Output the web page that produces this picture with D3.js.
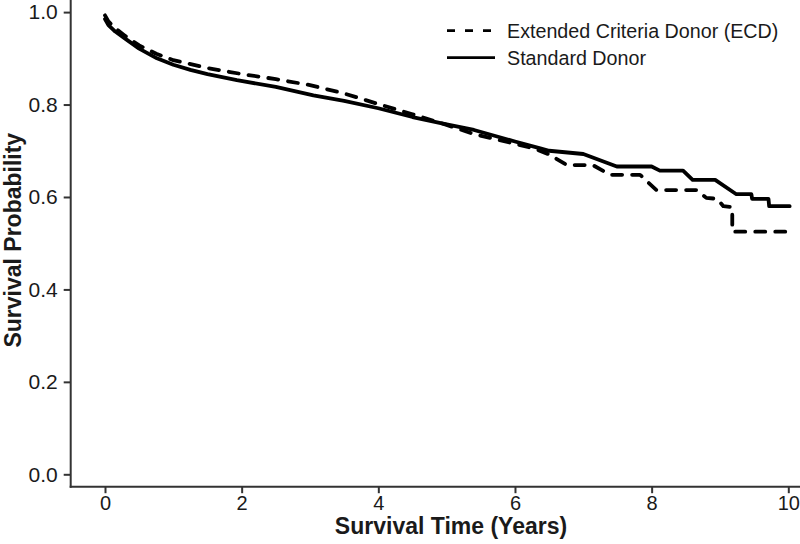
<!DOCTYPE html>
<html>
<head>
<meta charset="utf-8">
<script src="https://cdn.jsdelivr.net/npm/d3@7"></script>
<style>
  html, body { margin: 0; padding: 0; background: #fff; }
  svg { display: block; }
  text { font-family: "Liberation Sans", Arial, Helvetica, sans-serif; }
</style>
</head>
<body>
<svg id="chart" width="800" height="544"></svg>
<script>
// ---- Data ----
const xTicks = [0, 2, 4, 6, 8, 10];
const yTicks = [0.0, 0.2, 0.4, 0.6, 0.8, 1.0];

const seriesNames = ["Extended Criteria Donor (ECD)", "Standard Donor"];

// Extended Criteria Donor (dashed)
const ecdTime = [0, 0.05, 0.15, 0.3, 0.5, 0.75, 1.0, 1.5, 2.0, 2.5, 3.0, 3.5, 4.0, 4.5, 5.0, 5.4, 6.0, 6.3, 6.5, 6.76, 7.14, 7.39, 7.83, 8.07, 8.66, 8.8, 8.96, 9.05, 9.18, 9.18, 9.98];
const ecdSurv = [0.993, 0.98, 0.965, 0.948, 0.928, 0.91, 0.896, 0.879, 0.866, 0.855, 0.842, 0.824, 0.801, 0.779, 0.756, 0.736, 0.715, 0.704, 0.692, 0.669, 0.669, 0.648, 0.648, 0.615, 0.615, 0.598, 0.596, 0.580, 0.578, 0.525, 0.525];

// Standard Donor (solid)
const sdTime = [0, 0.05, 0.15, 0.3, 0.5, 0.76, 1.0, 1.25, 1.5, 1.93, 2.5, 3.05, 3.5, 4.0, 4.5, 5.0, 5.4, 6.0, 6.37, 6.5, 7.0, 7.49, 8.0, 8.12, 8.46, 8.6, 8.93, 9.24, 9.46, 9.47, 9.71, 9.72, 10.02];
const sdSurv = [0.985, 0.972, 0.958, 0.942, 0.921, 0.9, 0.886, 0.875, 0.866, 0.853, 0.838, 0.82, 0.808, 0.792, 0.773, 0.757, 0.745, 0.72, 0.705, 0.70, 0.693, 0.666, 0.666, 0.657, 0.657, 0.637, 0.637, 0.606, 0.606, 0.596, 0.596, 0.58, 0.58];

// ---- Chart ----
const svg = d3.select("#chart");
const axisX = 70.7, axisY = 486.7;

const x = d3.scaleLinear().domain([0, 10]).range([105, 788.3]);
const y = d3.scaleLinear().domain([0, 1]).range([474.3, 12.1]);

const axisColor = "#333";
const textColor = "#1a1a1a";

// Y axis
const gy = svg.append("g")
  .attr("transform", `translate(${axisX},0)`)
  .call(d3.axisLeft(y).tickValues(yTicks).tickFormat(d3.format(".1f")).tickSize(7).tickPadding(6));
gy.select(".domain").remove();
gy.selectAll(".tick line").attr("stroke", axisColor).attr("stroke-width", 2);
gy.selectAll(".tick text").attr("fill", textColor).style("font-size", "21px");

// X axis
const gx = svg.append("g")
  .attr("transform", `translate(0,${axisY})`)
  .call(d3.axisBottom(x).tickValues(xTicks).tickFormat(d3.format("d")).tickSize(6.5).tickPadding(3));
gx.select(".domain").remove();
gx.selectAll(".tick line").attr("stroke", axisColor).attr("stroke-width", 2);
gx.selectAll(".tick text").attr("fill", textColor).style("font-size", "20px");

// Axis lines (L frame)
svg.append("line").attr("x1", axisX).attr("x2", axisX).attr("y1", 0).attr("y2", axisY + 1)
  .attr("stroke", axisColor).attr("stroke-width", 2);
svg.append("line").attr("x1", axisX - 1).attr("x2", 800).attr("y1", axisY).attr("y2", axisY)
  .attr("stroke", axisColor).attr("stroke-width", 2);

// Axis titles
svg.append("text")
  .attr("x", 451).attr("y", 534)
  .attr("text-anchor", "middle")
  .attr("fill", textColor)
  .style("font-size", "23px").style("font-weight", "bold")
  .text("Survival Time (Years)");

svg.append("text")
  .attr("transform", `translate(21,${(12.1 + 474.3) / 2 - 3}) rotate(-90)`)
  .attr("text-anchor", "middle")
  .attr("fill", textColor)
  .style("font-size", "23px").style("font-weight", "bold")
  .text("Survival Probability");

// Curves
const line = d3.line().x(d => x(d[0])).y(d => y(d[1])).curve(d3.curveLinear);
const ecdData = ecdTime.map((t, i) => [t, ecdSurv[i]]);
const sdData = sdTime.map((t, i) => [t, sdSurv[i]]);

svg.append("path").datum(sdData)
  .attr("d", line).attr("fill", "none").attr("stroke", "#000")
  .attr("stroke-width", 3.8).attr("stroke-linejoin", "round").attr("stroke-linecap", "round");

svg.append("path").datum(ecdData)
  .attr("d", line).attr("fill", "none").attr("stroke", "#000")
  .attr("stroke-width", 3.8).attr("stroke-linejoin", "round").attr("stroke-linecap", "round")
  .attr("stroke-dasharray", "10,10");

// Legend
const legend = svg.append("g");
const legendRows = [
  { name: seriesNames[0], dash: "8,10", y: 30.7 },
  { name: seriesNames[1], dash: null, y: 57.7 }
];
legendRows.forEach(r => {
  const l = legend.append("line")
    .attr("x1", 447).attr("x2", 495).attr("y1", r.y).attr("y2", r.y)
    .attr("stroke", "#000").attr("stroke-width", 2.7);
  if (r.dash) l.attr("stroke-dasharray", r.dash);
  legend.append("text")
    .attr("x", 507).attr("y", r.y).attr("dy", "0.35em")
    .attr("fill", textColor)
    .style("font-size", "19.7px")
    .text(r.name);
});
</script>
</body>
</html>
